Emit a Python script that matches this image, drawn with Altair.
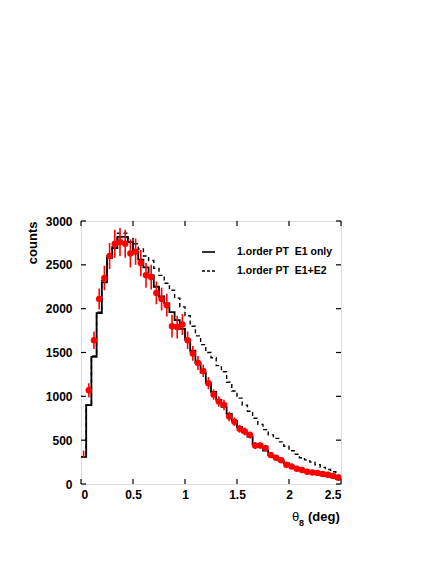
import altair as alt
import pandas as pd

BIN_WIDTH = 0.05
# histogram contents per 0.05 deg bin, 0 .. 2.5 deg
e1_counts = [310, 900, 1450, 1950, 2300, 2580, 2690, 2820, 2820, 2760,
             2650, 2560, 2470, 2380, 2250, 2140, 2060, 1960, 1870, 1770,
             1650, 1520, 1380, 1270, 1150, 1050, 960, 880, 800, 720,
             650, 590, 540, 450, 420, 380, 330, 300, 265, 235,
             200, 180, 160, 145, 130, 115, 100, 90, 75, 60]
e12_counts = [310, 900, 1460, 1960, 2320, 2600, 2720, 2860, 2860, 2800,
              2740, 2680, 2600, 2550, 2460, 2380, 2290, 2210, 2120, 2020,
              1920, 1800, 1690, 1590, 1500, 1440, 1350, 1280, 1160, 1060,
              980, 900, 830, 750, 680, 620, 560, 520, 480, 430,
              380, 340, 300, 275, 250, 220, 190, 165, 140, 100]
# measured data points
pt_x = [0.025, 0.075, 0.125, 0.175, 0.225, 0.275, 0.325, 0.375, 0.425, 0.475,
        0.525, 0.575, 0.625, 0.675, 0.725, 0.775, 0.825, 0.875, 0.925, 0.975,
        1.025, 1.075, 1.125, 1.175, 1.225, 1.275, 1.325, 1.375, 1.425, 1.475,
        1.525, 1.575, 1.625, 1.675, 1.725, 1.775, 1.825, 1.875, 1.925, 1.975,
        2.025, 2.075, 2.125, 2.175, 2.225, 2.275, 2.325, 2.375, 2.425, 2.475]
pt_y = [340, 1070, 1640, 2110, 2350, 2600, 2740, 2760, 2740, 2630,
        2650, 2520, 2380, 2360, 2180, 2110, 2040, 1800, 1790, 1820,
        1640, 1490, 1380, 1290, 1150, 1020, 940, 900, 770, 710,
        630, 600, 560, 440, 440, 410, 330, 300, 270, 220,
        200, 175, 160, 140, 130, 125, 115, 105, 90, 70]
pt_err = [40, 80, 100, 120, 140, 150, 160, 160, 160, 160,
          150, 150, 140, 140, 130, 130, 130, 130, 130, 120,
          100, 85, 80, 70, 70, 60, 60, 60, 55, 50,
          45, 45, 40, 40, 35, 35, 30, 30, 28, 25,
          25, 22, 20, 20, 20, 18, 18, 16, 15, 14]
x_ticks = [0, 0.5, 1, 1.5, 2, 2.5]
y_ticks = [0, 500, 1000, 1500, 2000, 2500, 3000]

W, H = 260, 263

def hist_frame(counts, name):
    xs = [round(i * BIN_WIDTH, 4) for i in range(len(counts) + 1)]
    ys = list(counts) + [counts[-1]]
    return pd.DataFrame({"x": xs, "y": ys, "model": name})

h1 = hist_frame(e1_counts, "E1")
h2 = hist_frame(e12_counts, "E1+E2")
pts = pd.DataFrame({"x": pt_x, "y": pt_y,
                    "lo": [a - b for a, b in zip(pt_y, pt_err)],
                    "hi": [a + b for a, b in zip(pt_y, pt_err)]})

xs = alt.Scale(domain=[0, 2.5], nice=False, zero=False)
ys = alt.Scale(domain=[0, 3000], nice=False, zero=False)
xax = alt.Axis(values=x_ticks, format="~g", title=None, ticks=False, tickSize=0,
               domain=False, grid=False, labelPadding=5, labelFontSize=12,
               labelFontWeight="bold", labelColor="black")
yax = alt.Axis(values=y_ticks, format="d", title="counts", ticks=False, tickSize=0,
               domain=False, grid=False, labelPadding=9, labelFontSize=12,
               labelFontWeight="bold", labelColor="black",
               titleAngle=270, titleX=-49, titleY=0, titleAlign="right",
               titleBaseline="middle", titleFontSize=13, titleFontWeight="bold",
               titleColor="black")

def X(f):
    return alt.X(f"{f}:Q", scale=xs, axis=xax)

def Y(f):
    return alt.Y(f"{f}:Q", scale=ys, axis=yax)

line_e1 = alt.Chart(h1).mark_line(interpolate="step-after", color="black",
                                  strokeWidth=1.8).encode(x=X("x"), y=Y("y"))
line_e12 = alt.Chart(h2).mark_line(interpolate="step-after", color="black",
                                   strokeWidth=1.4, strokeDash=[4, 3]).encode(x=X("x"), y=Y("y"))
errs = alt.Chart(pts).mark_rule(color="#ff0000", strokeWidth=1.6).encode(
    x=X("x"), y=Y("lo"), y2="hi")
dots = alt.Chart(pts).transform_filter("datum.x > 0.05").mark_circle(
    color="#ff0000", size=42, opacity=1).encode(x=X("x"), y=Y("y"))

xt = pd.DataFrame({"x": x_ticks})
yt = pd.DataFrame({"y": y_ticks})
tick_b = alt.Chart(xt).mark_rule(color="black", strokeWidth=1.2).encode(
    x=X("x"), y=alt.value(H), y2=alt.value(H - 5))
tick_t = alt.Chart(xt).mark_rule(color="black", strokeWidth=1.2).encode(
    x=X("x"), y=alt.value(0), y2=alt.value(5))
tick_l = alt.Chart(yt).mark_rule(color="black", strokeWidth=1.2).encode(
    y=Y("y"), x=alt.value(0), x2=alt.value(5))
tick_r = alt.Chart(yt).mark_rule(color="black", strokeWidth=1.2).encode(
    y=Y("y"), x=alt.value(W), x2=alt.value(W - 5))

one = alt.Data(values=[{}])

leg1 = alt.Chart(one).mark_rule(color="black", strokeWidth=1.6).encode(
    x=alt.value(121), x2=alt.value(134), y=alt.value(31))
leg2 = alt.Chart(one).mark_rule(color="black", strokeWidth=1.4, strokeDash=[3, 2]).encode(
    x=alt.value(121), x2=alt.value(134), y=alt.value(50))
legt1 = alt.Chart(one).mark_text(align="left", baseline="middle", fontSize=10.5,
                                 fontWeight="bold", color="black").encode(
    x=alt.value(156), y=alt.value(31), text=alt.value("1.order PT\u00a0 E1 only"))
legt2 = alt.Chart(one).mark_text(align="left", baseline="middle", fontSize=10.5,
                                 fontWeight="bold", color="black").encode(
    x=alt.value(156), y=alt.value(50), text=alt.value("1.order PT\u00a0 E1+E2"))

xt_theta = alt.Chart(one).mark_text(align="center", baseline="middle", fontSize=13,
                                    color="black").encode(
    x=alt.value(214.5), y=alt.value(296), text=alt.value("θ"))
xt_sub = alt.Chart(one).mark_text(align="center", baseline="middle", fontSize=9,
                                  fontWeight="bold", color="black").encode(
    x=alt.value(220.5), y=alt.value(302), text=alt.value("8"))
xt_deg = alt.Chart(one).mark_text(align="left", baseline="middle", fontSize=13,
                                  fontWeight="bold", color="black").encode(
    x=alt.value(227), y=alt.value(296), text=alt.value("(deg)"))

chart = alt.layer(line_e12, line_e1, errs, dots, tick_b, tick_t, tick_l, tick_r,
                  leg1, leg2, legt1, legt2, xt_theta, xt_sub, xt_deg).properties(
    width=W, height=H,
    autosize=alt.AutoSizeParams(type="none"),
    padding={"left": 73, "top": 213, "right": 87, "bottom": 72},
).configure_view(stroke="black", strokeWidth=1.5).configure(font="Liberation Sans")

chart.save("out.html", embed_options={"renderer": "svg", "actions": False})
